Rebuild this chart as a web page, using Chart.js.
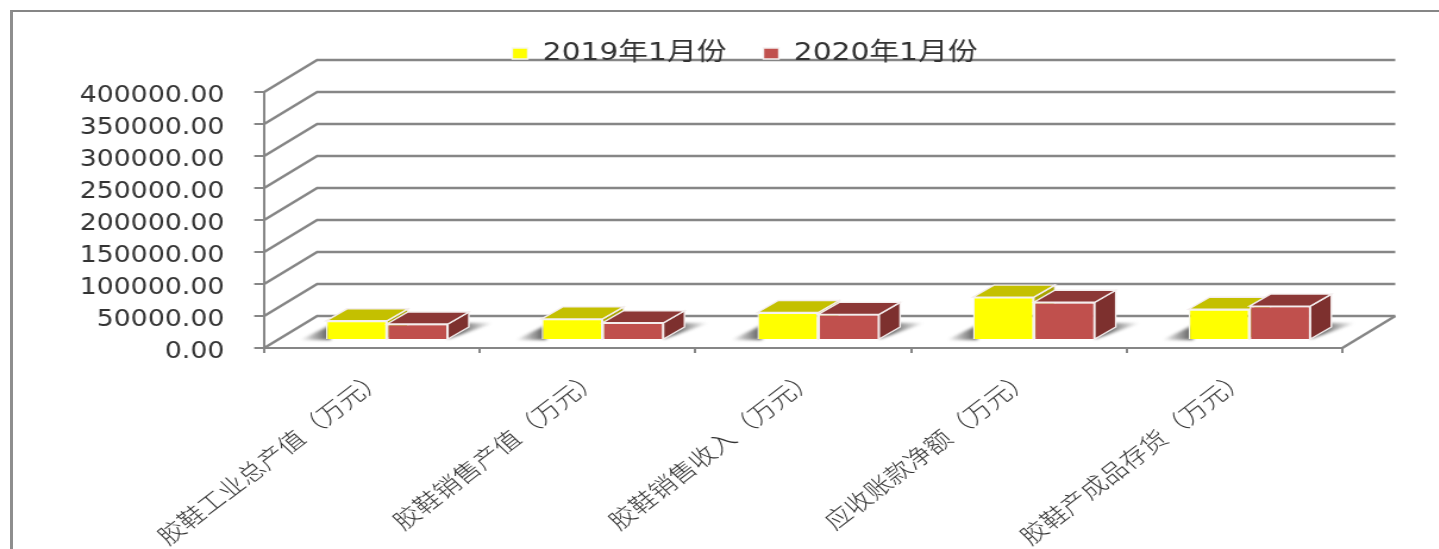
<!DOCTYPE html>
<html lang="zh">
<head>
<meta charset="utf-8">
<title>胶鞋行业主要指标</title>
<script src="https://cdn.jsdelivr.net/npm/chart.js@4/dist/chart.umd.min.js"></script>
<style>
  html, body { margin: 0; background: #fff; overflow: hidden; }
  #frame { position: absolute; left: 10px; top: 10px; right: 0; bottom: 0; border-top: 2px solid #868686; border-left: 3px solid #8e8e8e; }
  /* the original picture is stretched sideways, so the canvas is too */
  #chart { position: absolute; left: 0; top: 0; transform-origin: 0 0; transform: scaleX(1.19); }
</style>
</head>
<body>
<div id="frame"></div>
<canvas id="chart" width="1209" height="549"></canvas>
<script>
const categories = ['胶鞋工业总产值（万元）', '胶鞋销售产值（万元）', '胶鞋销售收入（万元）', '应收账款净额（万元）', '胶鞋产成品存货（万元）'];
const seriesNames = ['2019年1月份', '2020年1月份'];
const values2019 = [30000, 33000, 43000, 67000, 48000];
const values2020 = [25000, 27000, 40000, 59000, 53000];
const tickStep = 50000;
const tickMax = 400000;

const GRID = '#868686';
const WALL_DX = 44.5, WALL_DY = -32;   // back wall offset from the front axes
const BAR_DX = 12.6, BAR_DY = -8;      // bars stand a little way into the floor
const FACE_DX = 17.6, FACE_DY = -12;   // depth of one bar
const FRONT = ['#FFFF00', '#C0504D'];
const TOP = ['#C4C000', '#8C3836'];
const SIDE = ['#A8A400', '#7D302E'];

function poly(ctx, pts, fill) {
  ctx.beginPath();
  pts.forEach((p, i) => i ? ctx.lineTo(p[0], p[1]) : ctx.moveTo(p[0], p[1]));
  ctx.closePath();
  ctx.fillStyle = fill;
  ctx.fill();
  ctx.strokeStyle = '#f4eeee';
  ctx.lineWidth = 1.4;
  ctx.stroke();
}

function drawWalls(chart) {
  const { ctx, chartArea: a, scales: { y } } = chart;
  ctx.save();
  ctx.strokeStyle = GRID;
  ctx.lineWidth = 2.4;
  y.ticks.forEach(t => {
    const py = y.getPixelForValue(t.value);
    ctx.beginPath();
    ctx.moveTo(a.left, py);
    ctx.lineTo(a.left + WALL_DX, py + WALL_DY);
    ctx.lineTo(a.right + WALL_DX, py + WALL_DY);
    ctx.stroke();
  });
  ctx.beginPath();
  ctx.moveTo(a.right, a.bottom);
  ctx.lineTo(a.right + WALL_DX, a.bottom + WALL_DY);
  ctx.stroke();
  ctx.restore();
}

function drawShadows(chart) {
  const { ctx } = chart;
  const first = chart.getDatasetMeta(0).data;
  const second = chart.getDatasetMeta(1).data;
  ctx.save();
  ctx.filter = 'blur(1.5px)';
  first.forEach((bar, i) => {
    const left = bar.x - bar.width / 2;
    const right = second[i].x + second[i].width / 2;
    const base = bar.base;
    let g = ctx.createLinearGradient(left - 22, 0, left, 0);
    g.addColorStop(0, 'rgba(110,110,110,0)');
    g.addColorStop(1, 'rgba(110,110,110,1)');
    ctx.fillStyle = g;
    ctx.beginPath();
    ctx.moveTo(left - 22, base + 1);
    ctx.lineTo(left + 4, base + 1);
    ctx.lineTo(left + 4, base - 14);
    ctx.closePath();
    ctx.fill();
    g = ctx.createLinearGradient(right + 10, 0, right + 38, 0);
    g.addColorStop(0, 'rgba(100,100,100,1)');
    g.addColorStop(1, 'rgba(110,110,110,0)');
    ctx.fillStyle = g;
    ctx.beginPath();
    ctx.moveTo(right, base);
    ctx.lineTo(right + 38, base - 16);
    ctx.lineTo(right + 4, base - 16);
    ctx.closePath();
    ctx.fill();
  });
  ctx.restore();
}

// top and side of each bar, then the red front again so it covers the yellow side
function drawDepth(chart) {
  const { ctx } = chart;
  [0, 1].forEach(ds => {
    chart.getDatasetMeta(ds).data.forEach(bar => {
      const l = bar.x - bar.width / 2, r = bar.x + bar.width / 2, t = bar.y, b = bar.base;
      poly(ctx, [[r, t], [r + FACE_DX, t + FACE_DY], [r + FACE_DX, b + FACE_DY], [r, b]], SIDE[ds]);
      if (ds === 1) bar.draw(ctx);
      poly(ctx, [[l, t], [l + FACE_DX, t + FACE_DY], [r + FACE_DX, t + FACE_DY], [r, t]], TOP[ds]);
    });
  });
}

const depthPlugin = {
  id: 'depth',
  afterLayout(chart) {
    // legend sits over the top wall line, right of centre
    const legend = chart.legend;
    legend.left += 62;
    legend.right += 62;
    legend.top -= 16;
    legend.bottom -= 16;
  },
  beforeDraw: drawWalls,
  beforeDatasetsDraw(chart) {
    chart.ctx.save();
    chart.ctx.translate(BAR_DX, BAR_DY);
    drawShadows(chart);
  },
  afterDatasetsDraw(chart) {
    drawDepth(chart);
    chart.ctx.restore();
  },
};

new Chart(document.getElementById('chart'), {
  type: 'bar',
  plugins: [depthPlugin],
  data: {
    labels: categories,
    datasets: [
      { label: seriesNames[0], data: values2019, backgroundColor: FRONT[0], borderColor: '#f6f6f0', borderWidth: 1.4, clip: false },
      { label: seriesNames[1], data: values2020, backgroundColor: FRONT[1], borderColor: '#f4eeee', borderWidth: 1.4, clip: false },
    ],
  },
  options: {
    responsive: false,
    animation: false,
    categoryPercentage: 0.565,
    barPercentage: 1,
    layout: { padding: { top: 26, right: 81 } },
    plugins: {
      tooltip: { enabled: false },
      legend: {
        position: 'top',
        labels: {
          boxWidth: 13,
          boxHeight: 11,
          padding: 31,
          color: '#333',
          font: { family: '"DejaVu Sans", "Noto Sans CJK SC"', size: 25 },
        },
      },
    },
    scales: {
      x: {
        afterFit(scale) { scale.height = 201; },
        border: { color: GRID, width: 2 },
        grid: { offset: true, drawOnChartArea: false, drawTicks: true, tickLength: 5, color: GRID, lineWidth: 2 },
        ticks: {
          autoSkip: false,
          minRotation: 42,
          maxRotation: 42,
          padding: 11,
          labelOffset: 7,
          color: '#333',
          font: { family: '"Noto Sans CJK SC"', size: 22.5, weight: 300 },
        },
      },
      y: {
        min: 0,
        max: tickMax,
        afterFit(scale) { scale.width = 222; },
        border: { color: GRID, width: 2 },
        grid: { drawOnChartArea: false, drawTicks: true, tickLength: 8.4, color: GRID, lineWidth: 2 },
        ticks: {
          stepSize: tickStep,
          padding: 25,
          labelOffset: 4,
          color: '#333',
          font: { family: '"DejaVu Sans"', size: 22.5 },
          callback: v => v.toFixed(2),
        },
      },
    },
  },
});
</script>
</body>
</html>
